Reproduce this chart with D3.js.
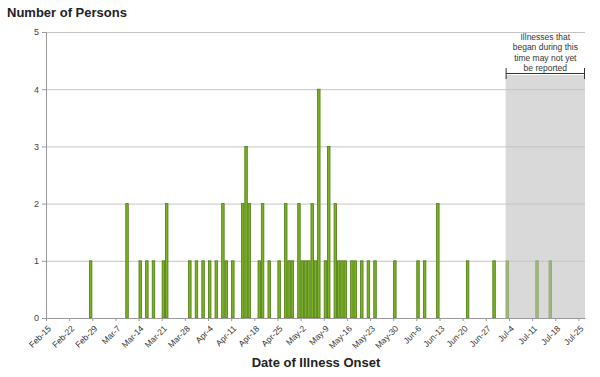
<!DOCTYPE html>
<html>
<head>
<meta charset="utf-8">
<script src="https://cdn.jsdelivr.net/npm/d3@7"></script>
<style>
  body { margin: 0; background: #fff; }
  svg text { font-family: "Liberation Sans", Arial, sans-serif; }
</style>
</head>
<body>
<div id="chart-container"></div>
<script>
// Onset dates and number of persons
let onsetDates = [
  "2016-02-28", "2016-03-10", "2016-03-14", "2016-03-16", "2016-03-18", "2016-03-21", "2016-03-22",
  "2016-03-29", "2016-03-31", "2016-04-02", "2016-04-04", "2016-04-06", "2016-04-08", "2016-04-09",
  "2016-04-11", "2016-04-14", "2016-04-15", "2016-04-16", "2016-04-19", "2016-04-20", "2016-04-22",
  "2016-04-25", "2016-04-27", "2016-04-28", "2016-04-29", "2016-05-01", "2016-05-02", "2016-05-03",
  "2016-05-04", "2016-05-05", "2016-05-06", "2016-05-07", "2016-05-09", "2016-05-10", "2016-05-12",
  "2016-05-13", "2016-05-14", "2016-05-15", "2016-05-17", "2016-05-18", "2016-05-20", "2016-05-22",
  "2016-05-24", "2016-05-30", "2016-06-06", "2016-06-08", "2016-06-12", "2016-06-21", "2016-06-29",
  "2016-07-03", "2016-07-12", "2016-07-16"
];
let persons = [
  1, 2, 1, 1, 1, 1, 2,
  1, 1, 1, 1, 1, 2, 1,
  1, 2, 3, 2, 1, 2, 1,
  1, 2, 1, 1, 2, 1, 1,
  1, 2, 1, 4, 1, 3, 2,
  1, 1, 1, 1, 1, 1, 1,
  1, 1, 1, 1, 2, 1, 1,
  1, 1, 1
];

// Weekly tick dates on the x axis
let tickDates = [
  "2016-02-15", "2016-02-22", "2016-02-29", "2016-03-07", "2016-03-14", "2016-03-21",
  "2016-03-28", "2016-04-04", "2016-04-11", "2016-04-18", "2016-04-25", "2016-05-02",
  "2016-05-09", "2016-05-16", "2016-05-23", "2016-05-30", "2016-06-06", "2016-06-13",
  "2016-06-20", "2016-06-27", "2016-07-04", "2016-07-11", "2016-07-18", "2016-07-25"
];
let yTicks = [0, 1, 2, 3, 4, 5];

let axisStart = "2016-02-15";
let axisEnd = "2016-07-27";
let reportingLagStart = "2016-07-03";
let lagNote = ["Illnesses that", "began during this", "time may not yet", "be reported"];

let parse = d3.utcParse("%Y-%m-%d");
let fmt = d3.utcFormat("%b-%-d");

let data = onsetDates.map((d, i) => ({ date: parse(d), n: persons[i] }));

let width = 600, height = 377;
let margin = { top: 32, right: 15, bottom: 59, left: 46 };

let svg = d3.select("#chart-container").append("svg")
  .attr("width", width)
  .attr("height", height);

let x = d3.scaleUtc()
  .domain([parse(axisStart), parse(axisEnd)])
  .range([margin.left, width - margin.right]);

let y = d3.scaleLinear()
  .domain([0, 5])
  .range([height - margin.bottom, margin.top]);

let lagX = x(parse(reportingLagStart));

// Shaded reporting-lag area
svg.append("rect")
  .attr("x", lagX)
  .attr("y", 75)
  .attr("width", x.range()[1] - lagX)
  .attr("height", y(0) - 75)
  .style("fill", "#d9d9d9");

// Gridlines
svg.append("g")
  .selectAll("line")
  .data(yTicks.filter(d => d > 0))
  .join("line")
  .attr("x1", x.range()[0])
  .attr("x2", x.range()[1])
  .attr("y1", d => y(d) + 0.5)
  .attr("y2", d => y(d) + 0.5)
  .style("stroke", "#c4c4c4")
  .style("stroke-width", 1);

// Bars
svg.append("g")
  .selectAll("rect")
  .data(data)
  .join("rect")
  .attr("x", d => x(d.date) + 0.4)
  .attr("y", d => y(d.n))
  .attr("width", d => x(d3.utcDay.offset(d.date, 1)) - x(d.date) - 0.8)
  .attr("height", d => y(0) - y(d.n))
  .style("fill", d => d.date >= parse(reportingLagStart) ? "#a3b97f" : "#7cb223")
  .style("stroke", d => d.date >= parse(reportingLagStart) ? "#8da66a" : "#4c7a12")
  .style("stroke-width", 0.8);

// X axis
let xAxis = d3.axisBottom(x)
  .tickValues(tickDates.map(parse))
  .tickFormat(fmt)
  .tickSize(3)
  .tickSizeOuter(0);

let gx = svg.append("g")
  .attr("transform", "translate(0," + y(0) + ")")
  .call(xAxis);
gx.select(".domain").style("stroke", "#9a9a9a");
gx.selectAll(".tick line").style("stroke", "#9a9a9a");
gx.selectAll(".tick text")
  .style("font-size", "8.5px")
  .style("fill", "#333")
  .style("text-anchor", "end")
  .attr("y", 0)
  .attr("dy", "0.35em")
  .attr("transform", "translate(3,9) rotate(-45)");

// Y axis
let yAxis = d3.axisLeft(y)
  .tickValues(yTicks)
  .tickFormat(d3.format("d"))
  .tickSize(4)
  .tickSizeOuter(0);

let gy = svg.append("g")
  .attr("transform", "translate(" + x.range()[0] + ",0)")
  .call(yAxis);
gy.select(".domain").style("stroke", "#9a9a9a");
gy.selectAll(".tick line").style("stroke", "#9a9a9a");
gy.selectAll(".tick text")
  .style("font-size", "9px")
  .style("fill", "#444");

// Bracket over the shaded area
let bx0 = lagX, bx1 = x.range()[1];
let bracket = svg.append("g").style("stroke", "#333").style("stroke-width", 1);
bracket.append("line").attr("x1", bx0).attr("x2", bx1).attr("y1", 73.5).attr("y2", 73.5);
bracket.append("line").attr("x1", bx0 + 0.5).attr("x2", bx0 + 0.5).attr("y1", 68).attr("y2", 79);
bracket.append("line").attr("x1", bx1 - 0.5).attr("x2", bx1 - 0.5).attr("y1", 68).attr("y2", 79);

svg.append("text")
  .attr("x", (bx0 + bx1) / 2)
  .attr("y", 40)
  .style("text-anchor", "middle")
  .style("font-size", "8.5px")
  .style("fill", "#333")
  .selectAll("tspan")
  .data(lagNote)
  .join("tspan")
  .attr("x", (bx0 + bx1) / 2)
  .attr("dy", (d, i) => i === 0 ? 0 : 10.3)
  .text(d => d);

// Titles
svg.append("text")
  .attr("x", 7)
  .attr("y", 17)
  .style("font-size", "13px")
  .style("font-weight", "bold")
  .style("fill", "#222")
  .text("Number of Persons");

svg.append("text")
  .attr("x", 316)
  .attr("y", 367)
  .style("text-anchor", "middle")
  .style("font-size", "13px")
  .style("font-weight", "bold")
  .style("fill", "#222")
  .text("Date of Illness Onset");
</script>
</body>
</html>
